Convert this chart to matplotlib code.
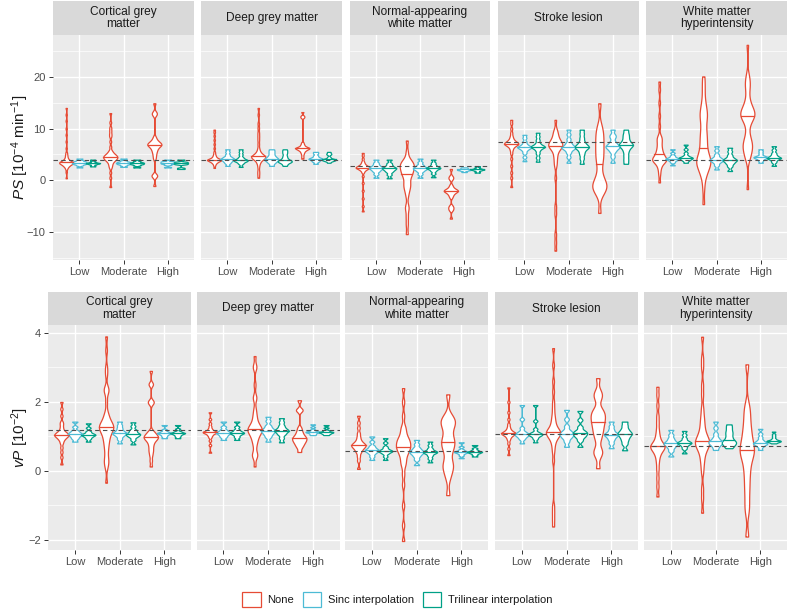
import numpy as np
import matplotlib
matplotlib.use('Agg')
import matplotlib.pyplot as plt
from matplotlib.patches import Patch

plt.rcParams['font.family'] = ['Liberation Sans', 'DejaVu Sans']
plt.rcParams['mathtext.fontset'] = 'custom'
plt.rcParams['mathtext.rm'] = 'Liberation Sans'
plt.rcParams['mathtext.it'] = 'Liberation Sans:italic'

levels = ['Low', 'Moderate', 'High']
methods = ['None', 'Sinc interpolation', 'Trilinear interpolation']
colors = ['#E64B35', '#4DBBD5', '#00A087']
regions = ['Cortical grey\nmatter', 'Deep grey matter', 'Normal-appearing\nwhite matter',
           'Stroke lesion', 'White matter\nhyperintensity']

# ---- PS [10^-4 min^-1], per region: [low, moderate, high] ----
ps_cgm_none = [[0.4, 1.6, 2.2, 2.5, 2.7, 2.8, 2.9, 3.0, 3.1, 3.2, 3.2, 3.3, 3.3, 3.4, 3.4, 3.4, 3.5, 3.5, 3.6, 3.6,
                3.7, 3.8, 3.9, 4.0, 4.2, 4.4, 4.7, 5.0, 5.4, 6.2, 7.5, 8.8, 10.0, 11.5, 12.7, 14.0],
               [-1.3, 0.5, 1.5, 2.4, 2.8, 3.1, 3.4, 3.6, 3.8, 3.9, 4.0, 4.1, 4.2, 4.3, 4.4, 4.5, 4.5, 4.6, 4.7, 4.8,
                4.9, 5.0, 5.1, 5.3, 5.5, 5.8, 6.5, 7.5, 8.5, 9.0, 9.6, 10.2, 11.2, 13.0],
               [-1.1, 0.7, 0.9, 1.1, 4.2, 4.8, 5.3, 5.7, 6.0, 6.3, 6.5, 6.7, 6.8, 6.9, 7.0, 7.1, 7.2, 7.4, 7.6, 7.9,
                8.4, 12.6, 12.9, 13.2, 14.9]]
ps_cgm_sinc = [[2.5, 2.9, 3.1, 3.2, 3.3, 3.4, 3.5, 3.6, 3.7, 3.9, 4.2],
               [2.6, 2.9, 3.1, 3.2, 3.3, 3.4, 3.5, 3.6, 3.8, 4.2],
               [2.5, 3.0, 3.2, 3.3, 3.4, 3.5, 3.6, 3.7, 4.0]]
ps_cgm_tri = [[2.7, 2.9, 3.1, 3.2, 3.3, 3.3, 3.4, 3.5, 3.7, 4.0],
              [2.5, 2.9, 3.1, 3.2, 3.3, 3.4, 3.5, 3.7, 4.0],
              [2.2, 2.4, 3.1, 3.2, 3.3, 3.4, 3.5, 3.6, 4.0]]

ps_dgm_none = [[2.4, 2.9, 3.2, 3.4, 3.5, 3.6, 3.7, 3.8, 3.8, 3.9, 3.9, 4.0, 4.0, 4.0, 4.0, 4.1, 4.2, 4.3, 4.4, 4.6,
                4.8, 5.1, 5.5, 6.2, 7.0, 7.8, 8.6, 9.3, 9.8],
               [0.5, 1.2, 1.8, 2.6, 3.2, 3.5, 3.8, 4.0, 4.1, 4.2, 4.3, 4.4, 4.5, 4.5, 4.6, 4.6, 4.7, 4.8, 4.9, 5.0,
                5.2, 5.4, 5.7, 6.2, 7.0, 7.8, 8.5, 9.2, 10.1, 11.0, 12.7, 14.0],
               [4.2, 4.6, 5.0, 5.3, 5.5, 5.7, 5.8, 5.9, 6.0, 6.1, 6.1, 6.2, 6.2, 6.3, 6.3, 6.4, 6.5, 6.6, 6.8, 7.0,
                7.3, 12.1, 12.3, 12.5, 13.2]]
ps_dgm_sinc = [[2.8, 3.3, 3.6, 3.8, 4.0, 4.1, 4.2, 4.4, 4.6, 5.0, 5.5, 6.0],
               [2.8, 3.3, 3.6, 3.8, 4.0, 4.1, 4.3, 4.5, 4.8, 5.2, 5.6, 6.0],
               [3.2, 3.6, 3.8, 4.0, 4.1, 4.2, 4.3, 4.5, 4.8, 5.2, 5.5]]
ps_dgm_tri = [[2.6, 3.2, 3.5, 3.7, 3.8, 3.9, 4.0, 4.2, 4.5, 5.0, 5.5, 6.0],
              [2.8, 3.2, 3.5, 3.6, 3.7, 3.8, 4.0, 4.3, 4.7, 5.2, 5.6, 6.0],
              [3.4, 3.7, 3.8, 3.9, 4.0, 4.0, 4.1, 4.2, 4.5, 5.0, 5.2, 5.5]]

ps_nawm_none = [[-6.0, -5.0, -3.5, -2.0, -0.5, 0.8, 1.5, 1.8, 2.0, 2.1, 2.2, 2.3, 2.4, 2.4, 2.5, 2.5, 2.6, 2.6,
                 2.7, 2.8, 2.9, 3.0, 3.2, 3.4, 3.7, 4.2, 4.8, 5.3],
                [-10.4, -8.5, -7.0, -5.5, -5.0, -3.0, -2.0, -1.5, -1.0, -0.6, -0.2, 0.5, 1.0, 1.2, 1.4, 1.7, 2.0,
                 2.3, 2.5, 2.7, 2.9, 3.1, 3.3, 3.5, 3.8, 4.2, 5.5, 7.7],
                [-7.4, -5.8, -5.5, -5.2, -4.9, -3.3, -2.9, -2.6, -2.4, -2.2, -2.1, -2.0, -2.0, -1.9, -1.8, -1.6,
                 -1.3, -0.9, 0.2, 0.5, 0.8, 2.2]]
ps_nawm_sinc = [[0.5, 1.2, 1.7, 2.0, 2.2, 2.4, 2.5, 2.7, 3.0, 3.4, 4.0],
                [0.5, 1.2, 1.7, 2.0, 2.2, 2.3, 2.5, 2.7, 3.0, 3.5, 4.2],
                [1.6, 1.8, 1.9, 2.0, 2.0, 2.1, 2.1, 2.2, 2.3, 2.4, 2.5]]
ps_nawm_tri = [[0.4, 1.1, 1.6, 1.9, 2.1, 2.3, 2.4, 2.6, 2.9, 3.3, 4.0],
               [0.6, 1.3, 1.8, 2.1, 2.3, 2.4, 2.5, 2.7, 3.0, 3.4, 4.0],
               [1.5, 1.7, 1.9, 2.0, 2.1, 2.1, 2.2, 2.3, 2.5, 2.75]]

ps_stroke_none = [[-1.3, 0.5, 1.5, 2.8, 4.2, 5.2, 5.8, 6.2, 6.5, 6.7, 6.8, 6.9, 7.0, 7.1, 7.1, 7.2, 7.3, 7.4, 7.5,
                   7.7, 7.9, 8.2, 8.6, 9.2, 10.0, 11.0, 11.7],
                  [-13.6, -12.0, -10.4, -6.5, -5.0, 0.5, 2.8, 3.6, 4.4, 5.0, 5.6, 6.0, 6.3, 6.5, 6.6, 6.7, 6.8,
                   7.0, 7.1, 7.3, 7.5, 7.7, 8.0, 8.4, 8.8, 9.3, 9.8, 11.7],
                  [-6.3, -2.7, -2.0, -1.6, -1.2, -1.0, -0.7, -0.3, 0.5, 1.5, 3.1, 4.0, 4.8, 5.6, 6.4, 7.2, 8.0,
                   8.8, 9.6, 10.6, 14.9]]
ps_stroke_sinc = [[3.7, 4.5, 5.3, 5.8, 6.1, 6.3, 6.4, 6.5, 6.7, 7.0, 7.5, 8.2, 8.8],
                  [3.4, 4.5, 5.3, 5.8, 6.1, 6.3, 6.4, 6.6, 6.9, 7.3, 8.0, 8.9, 9.8],
                  [3.4, 4.6, 5.5, 6.0, 6.3, 6.5, 6.7, 7.0, 7.5, 8.3, 8.8, 9.8]]
ps_stroke_tri = [[3.6, 4.4, 5.2, 5.8, 6.2, 6.4, 6.5, 6.6, 6.8, 7.2, 7.8, 8.5, 9.2],
                 [3.2, 4.2, 5.0, 5.6, 6.1, 6.3, 6.5, 6.7, 7.0, 7.5, 8.2, 9.0, 9.8],
                 [3.2, 4.0, 4.8, 5.6, 6.2, 6.6, 6.8, 7.0, 7.3, 7.8, 8.4, 9.0, 9.8]]

ps_wmh_none = [[-0.4, 1.2, 2.2, 2.8, 3.3, 3.6, 3.8, 3.9, 4.0, 4.0, 4.1, 4.2, 4.4, 4.7, 5.0, 5.2, 5.5, 5.9, 6.3,
                6.8, 7.3, 7.8, 8.2, 8.5, 10.5, 12.5, 15.0, 17.5, 19.1],
               [-4.6, -1.5, 0.5, 1.2, 1.8, 2.3, 2.7, 3.0, 3.3, 3.5, 3.7, 3.9, 4.2, 4.5, 4.9, 5.4, 5.9,
                6.7, 7.2, 7.8, 8.4, 9.0, 9.7, 10.5, 11.4, 12.2, 12.6, 13.0, 13.6, 14.5, 15.3, 17.0, 18.5, 20.1],
               [-1.7, 4.0, 4.6, 5.2, 5.7, 6.1, 6.5, 6.8, 7.1, 7.5, 8.0, 8.6, 9.8, 11.0, 11.6, 12.0, 12.3, 12.4,
                12.6, 12.9, 13.0, 13.2, 13.4, 13.6, 14.2, 14.6, 15.0, 16.0, 17.2, 18.2, 18.7, 19.5, 20.4, 26.2]]
ps_wmh_sinc = [[2.9, 3.5, 3.8, 4.0, 4.1, 4.2, 4.3, 4.5, 4.8, 5.3, 6.0],
               [2.1, 2.9, 3.4, 3.7, 3.9, 4.0, 4.2, 4.5, 5.0, 5.8, 6.6],
               [3.4, 3.8, 4.1, 4.3, 4.4, 4.5, 4.6, 4.8, 5.2, 5.6, 6.0]]
ps_wmh_tri = [[3.4, 3.8, 4.0, 4.2, 4.3, 4.4, 4.5, 4.8, 5.3, 6.0, 6.9],
              [1.8, 2.7, 3.2, 3.5, 3.8, 3.9, 4.1, 4.4, 4.9, 5.6, 6.3],
              [2.8, 3.5, 3.9, 4.2, 4.3, 4.4, 4.6, 4.9, 5.3, 5.9, 6.6]]

# ---- vP [10^-2] ----
vp_cgm_none = [[0.19, 0.4, 0.55, 0.68, 0.8, 0.87, 0.92, 0.95, 0.98, 1.0, 1.02, 1.03, 1.05, 1.06, 1.08, 1.1, 1.12,
                1.15, 1.2, 1.27, 1.35, 1.42, 1.6, 1.8, 2.0],
               [-0.34, 0.1, 0.25, 0.3, 0.45, 0.6, 0.72, 0.82, 0.9, 0.98, 1.05, 1.1, 1.15, 1.2, 1.22, 1.25, 1.28,
                1.3, 1.33, 1.36, 1.4, 1.45, 1.52, 1.6, 1.7, 2.0, 2.3, 2.35, 2.4, 2.8, 3.0, 3.5, 3.9],
               [0.13, 0.3, 0.45, 0.55, 0.62, 0.7, 0.77, 0.83, 0.88, 0.91, 0.94, 0.96, 0.98, 1.0, 1.02, 1.05, 1.08,
                1.12, 1.17, 1.95, 2.0, 2.03, 2.5, 2.53, 2.9]]
vp_cgm_sinc = [[0.85, 0.93, 0.98, 1.02, 1.05, 1.07, 1.1, 1.13, 1.18, 1.28, 1.43],
               [0.8, 0.92, 1.0, 1.05, 1.08, 1.1, 1.13, 1.18, 1.25, 1.33, 1.43],
               [0.95, 1.0, 1.04, 1.07, 1.09, 1.1, 1.12, 1.15, 1.2, 1.33]]
vp_cgm_tri = [[0.85, 0.93, 0.98, 1.01, 1.04, 1.05, 1.07, 1.1, 1.15, 1.25, 1.38],
              [0.77, 0.9, 0.98, 1.02, 1.05, 1.07, 1.1, 1.15, 1.2, 1.3, 1.41],
              [0.95, 1.0, 1.04, 1.07, 1.09, 1.1, 1.12, 1.15, 1.22, 1.33]]

vp_dgm_none = [[0.53, 0.75, 0.88, 0.97, 1.02, 1.05, 1.08, 1.1, 1.11, 1.12, 1.13, 1.14, 1.15, 1.17, 1.2, 1.24, 1.3,
                1.38, 1.5, 1.7],
               [0.13, 0.42, 0.46, 0.5, 0.7, 0.82, 0.9, 0.97, 1.03, 1.08, 1.12, 1.15, 1.18, 1.2, 1.22, 1.25, 1.28,
                1.32, 1.38, 1.45, 1.55, 1.65, 1.8, 2.1, 2.15, 2.5, 3.0, 3.03, 3.33],
               [0.55, 0.68, 0.75, 0.8, 0.85, 0.88, 0.92, 0.95, 0.98, 1.02, 1.08, 1.15, 1.25, 1.75, 1.78, 2.05]]
vp_dgm_sinc = [[0.9, 0.98, 1.03, 1.07, 1.1, 1.12, 1.15, 1.2, 1.28, 1.43],
               [0.85, 0.98, 1.05, 1.1, 1.14, 1.17, 1.2, 1.25, 1.32, 1.45, 1.57],
               [1.04, 1.07, 1.1, 1.12, 1.13, 1.14, 1.16, 1.2, 1.27, 1.35]]
vp_dgm_tri = [[0.9, 0.98, 1.04, 1.08, 1.1, 1.12, 1.15, 1.2, 1.28, 1.43],
              [0.83, 0.95, 1.05, 1.1, 1.15, 1.17, 1.2, 1.25, 1.32, 1.42, 1.53],
              [1.04, 1.07, 1.09, 1.11, 1.12, 1.13, 1.15, 1.18, 1.25, 1.33]]

vp_nawm_none = [[0.06, 0.3, 0.42, 0.52, 0.58, 0.62, 0.66, 0.69, 0.71, 0.73, 0.75, 0.77, 0.79, 0.82, 0.86, 0.92,
                 1.0, 1.1, 1.25, 1.4, 1.6],
                [-2.03, -1.57, -1.0, -0.4, -0.1, 0.15, 0.25, 0.35, 0.45, 0.52, 0.58, 0.62, 0.66, 0.7, 0.74, 0.78,
                 0.82, 0.86, 0.9, 0.95, 1.0, 1.1, 1.2, 1.3, 1.6, 2.0, 2.4],
                [-0.7, -0.2, 0.0, 0.1, 0.2, 0.3, 0.55, 0.65, 0.75, 0.85, 0.9, 1.0, 1.2, 1.3, 1.4, 1.45, 1.5, 1.6,
                 2.22]]
vp_nawm_sinc = [[0.32, 0.42, 0.5, 0.55, 0.58, 0.6, 0.63, 0.67, 0.73, 0.85, 1.0],
                [0.17, 0.33, 0.42, 0.48, 0.52, 0.55, 0.58, 0.62, 0.68, 0.78, 0.9],
                [0.37, 0.45, 0.5, 0.53, 0.55, 0.56, 0.58, 0.62, 0.7, 0.83]]
vp_nawm_tri = [[0.32, 0.42, 0.5, 0.54, 0.57, 0.58, 0.6, 0.64, 0.7, 0.82, 0.95],
               [0.25, 0.36, 0.44, 0.5, 0.53, 0.55, 0.57, 0.6, 0.66, 0.75, 0.85],
               [0.42, 0.47, 0.51, 0.53, 0.55, 0.56, 0.58, 0.61, 0.66, 0.75]]

vp_stroke_none = [[0.46, 0.65, 0.8, 0.9, 0.96, 1.0, 1.03, 1.05, 1.07, 1.08, 1.09, 1.1, 1.11, 1.13, 1.15, 1.18,
                   1.22, 1.28, 1.36, 1.5, 1.7, 2.0, 2.42],
                  [-1.61, -1.4, -1.2, -1.0, 0.3, 0.56, 0.72, 0.84, 0.92, 0.98, 1.02, 1.05, 1.08, 1.1, 1.12, 1.14,
                   1.17, 1.2, 1.25, 1.32, 1.4, 1.5, 1.62, 1.8, 2.0, 2.3, 2.6, 3.07, 3.56],
                  [0.08, 0.45, 0.55, 0.62, 0.9, 1.05, 1.15, 1.25, 1.35, 1.43, 1.5, 1.58, 1.65, 1.72, 1.8, 2.1,
                   2.2, 2.3, 2.69]]
vp_stroke_sinc = [[0.8, 0.92, 0.98, 1.02, 1.05, 1.07, 1.1, 1.15, 1.25, 1.5, 1.91],
                  [0.7, 0.85, 0.95, 1.0, 1.05, 1.08, 1.12, 1.18, 1.3, 1.5, 1.77],
                  [0.66, 0.8, 0.9, 0.97, 1.02, 1.05, 1.08, 1.12, 1.2, 1.3, 1.43]]
vp_stroke_tri = [[0.83, 0.93, 0.99, 1.03, 1.05, 1.07, 1.09, 1.13, 1.22, 1.45, 1.91],
                 [0.7, 0.88, 0.97, 1.02, 1.06, 1.1, 1.13, 1.18, 1.28, 1.48, 1.74],
                 [0.6, 0.78, 0.88, 0.96, 1.02, 1.07, 1.1, 1.15, 1.22, 1.32, 1.43]]

vp_wmh_none = [[-0.74, -0.45, -0.2, 0.05, 0.25, 0.4, 0.5, 0.57, 0.62, 0.66, 0.69, 0.71, 0.73, 0.76, 0.8, 0.86,
                0.95, 1.05, 1.2, 1.4, 1.6, 1.9, 2.2, 2.44],
               [-1.21, -0.8, -0.5, -0.02, 0.2, 0.35, 0.48, 0.58, 0.65, 0.7, 0.74, 0.78, 0.82, 0.85, 0.88, 0.92,
                0.97, 1.03, 1.1, 1.2, 1.32, 1.45, 1.6, 1.82, 2.2, 2.5, 3.0, 3.27, 3.89],
               [-1.9, -1.18, -0.9, -0.6, -0.35, -0.1, 0.1, 0.3, 0.42, 0.52, 0.6, 0.66, 0.75, 0.88, 1.0, 1.15,
                1.3, 1.5, 1.7, 1.91, 3.09]]
vp_wmh_sinc = [[0.42, 0.58, 0.67, 0.73, 0.77, 0.8, 0.83, 0.88, 0.95, 1.05, 1.19],
               [0.61, 0.7, 0.76, 0.8, 0.83, 0.86, 0.9, 0.97, 1.08, 1.25, 1.43],
               [0.61, 0.7, 0.75, 0.78, 0.8, 0.82, 0.85, 0.9, 0.98, 1.08, 1.22]]
vp_wmh_tri = [[0.51, 0.65, 0.72, 0.77, 0.8, 0.82, 0.84, 0.88, 0.95, 1.05, 1.16],
              [0.66, 0.73, 0.78, 0.82, 0.85, 0.9, 0.98, 1.07, 1.15, 1.25, 1.35],
              [0.8, 0.83, 0.85, 0.86, 0.87, 0.88, 0.9, 0.94, 1.0, 1.06, 1.14]]

# reference (dashed) values per region
ps_ref = [4.0, 4.0, 2.75, 7.35, 3.95]
vp_ref = [1.18, 1.18, 0.58, 1.07, 0.73]

ps_data = [[ps_cgm_none, ps_cgm_sinc, ps_cgm_tri],
           [ps_dgm_none, ps_dgm_sinc, ps_dgm_tri],
           [ps_nawm_none, ps_nawm_sinc, ps_nawm_tri],
           [ps_stroke_none, ps_stroke_sinc, ps_stroke_tri],
           [ps_wmh_none, ps_wmh_sinc, ps_wmh_tri]]
vp_data = [[vp_cgm_none, vp_cgm_sinc, vp_cgm_tri],
           [vp_dgm_none, vp_dgm_sinc, vp_dgm_tri],
           [vp_nawm_none, vp_nawm_sinc, vp_nawm_tri],
           [vp_stroke_none, vp_stroke_sinc, vp_stroke_tri],
           [vp_wmh_none, vp_wmh_sinc, vp_wmh_tri]]

W, H = 791, 615
fig = plt.figure(figsize=(W / 100, H / 100), dpi=100)


def px_axes(x, y, w, h):
    return fig.add_axes([x / W, 1 - (y + h) / H, w / W, h / H])


def violin(ax, x, vals, color, half=0.16, adjust=0.45):
    # gaussian kde (nrd0 bandwidth, like ggplot), trimmed to the data range
    v = np.asarray(vals, float)
    q75, q25 = np.percentile(v, [75, 25])
    bw = adjust * 0.9 * min(v.std(ddof=1), (q75 - q25) / 1.34) * len(v) ** -0.2
    y = np.linspace(v.min(), v.max(), 512)
    d = np.exp(-0.5 * ((y[:, None] - v[None, :]) / bw) ** 2).sum(1)
    w = d / d.max() * half
    ax.fill_betweenx(y, x - w, x + w, facecolor='white', edgecolor=color, lw=0.9, zorder=3)
    med = np.median(v)
    wm = np.interp(med, y, w)
    ax.plot([x - wm, x + wm], [med, med], color=color, lw=0.9, zorder=4)


def draw_row(data, refs, xs, wpx, top, strip_h, ylim, major, minor, ylabel):
    for i, reg in enumerate(regions):
        st = px_axes(xs[i], top, wpx, strip_h)
        st.set_facecolor('#D9D9D9')
        st.set_xticks([]); st.set_yticks([])
        for s in st.spines.values():
            s.set_visible(False)
        st.text(0.5, 0.5, reg, ha='center', va='center', fontsize=8.6,
                color='#1A1A1A', linespacing=1.1, transform=st.transAxes)

        ax = px_axes(xs[i], top + strip_h, wpx, 225)
        ax.set_facecolor('#EBEBEB')
        for s in ax.spines.values():
            s.set_visible(False)
        ax.set_xlim(0.4, 3.6)
        ax.set_ylim(*ylim)
        ax.set_xticks([1, 2, 3])
        ax.set_xticklabels(levels)
        ax.set_yticks(major)
        ax.set_yticks(minor, minor=True)
        ax.grid(which='major', color='white', lw=1.0)
        ax.grid(which='minor', axis='y', color='white', lw=0.5)
        ax.set_axisbelow(True)
        ax.tick_params(axis='both', which='major', length=2.75, width=0.7, color='#333333',
                       labelsize=8, labelcolor='#4D4D4D', pad=2.5)
        ax.tick_params(axis='y', which='minor', length=0)
        if i > 0:
            ax.tick_params(axis='y', which='major', length=0, labelleft=False)

        for m in range(3):
            for k in range(3):
                violin(ax, k + 1 + (m - 1) * 0.3, data[i][m][k], colors[m])
        ax.axhline(refs[i], color='#4D4D4D', lw=0.8, ls=(0, (4, 3)), zorder=5)

    fig.text(20 / W, 1 - (top + strip_h + 112) / H, ylabel, rotation=90,
             ha='center', va='center', fontsize=11, color='#1A1A1A')


draw_row(ps_data, ps_ref, [53, 201, 349.5, 498, 646], 141, 1, 34, (-15.4, 28.1),
         [-10, 0, 10, 20], [-15, -5, 5, 15, 25], r'$\it{PS}$ [10$^{-4}$ min$^{-1}$]')
draw_row(vp_data, vp_ref, [48, 196.5, 345, 495, 644], 143, 292, 33, (-2.29, 4.23),
         [-2, 0, 2, 4], [-1, 1, 3], r'$\it{vP}$ [10$^{-2}$]')

handles = [Patch(facecolor='white', edgecolor=c, lw=0.9) for c in colors]
fig.legend(handles, methods, loc='center', bbox_to_anchor=(397 / W, 1 - 599 / H), ncol=3,
           frameon=False, fontsize=8, handlelength=1.7, handleheight=1.7,
           handletextpad=0.55, columnspacing=0.8, labelcolor='#1A1A1A')

fig.savefig('out.png', dpi=100, facecolor='white')
